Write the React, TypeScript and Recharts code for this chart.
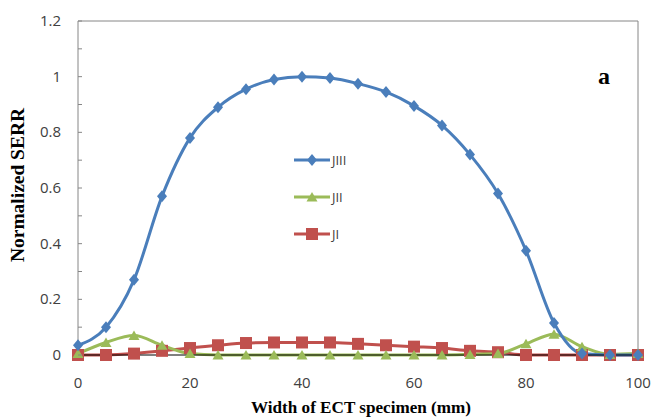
import { Line, LineChart, ReferenceLine, XAxis, YAxis } from 'recharts';

const widths = [0, 5, 10, 15, 20, 25, 30, 35, 40, 45, 50, 55, 60, 65, 70, 75, 80, 85, 90, 95, 100];
const jIII = [0.035, 0.1, 0.27, 0.57, 0.78, 0.89, 0.955, 0.99, 1.0, 0.995, 0.975, 0.945, 0.895, 0.825, 0.72, 0.58, 0.375, 0.115, 0.005, 0, 0];
const jII = [0.005, 0.045, 0.07, 0.035, 0.005, 0, 0, 0, 0, 0, 0, 0, 0, 0, 0.002, 0.005, 0.04, 0.075, 0.03, 0.002, 0.005];
const jI = [0, 0, 0.005, 0.015, 0.025, 0.035, 0.043, 0.045, 0.045, 0.045, 0.04, 0.035, 0.03, 0.025, 0.015, 0.01, 0, 0, 0, 0, 0];
const xTicks = [0, 20, 40, 60, 80, 100];
const yTicks = [0, 0.1, 0.2, 0.3, 0.4, 0.5, 0.6, 0.7, 0.8, 0.9, 1, 1.1, 1.2];
const yLabels: Record<string, string> = { '0': '0', '0.2': '0.2', '0.4': '0.4', '0.6': '0.6', '0.8': '0.8', '1': '1', '1.2': '1.2' };

const BLUE = '#4a7ebb';
const GREEN = '#9bbb59';
const RED = '#c0504d';
const SERIF = "'Liberation Serif', 'Times New Roman', serif";
const SANS = "'Open Sans', sans-serif";

const data = widths.map((w, i) => ({ w, JIII: jIII[i], JII: jII[i], JI: jI[i] }));

function Diamond({ cx, cy, fill }: any) {
  if (cx == null || cy == null) return null;
  return <polygon points={`${cx},${cy - 6} ${cx + 5},${cy} ${cx},${cy + 6} ${cx - 5},${cy}`} fill={fill} />;
}
function Triangle({ cx, cy, fill }: any) {
  if (cx == null || cy == null) return null;
  return <polygon points={`${cx},${cy - 5} ${cx + 5.5},${cy + 4.5} ${cx - 5.5},${cy + 4.5}`} fill={fill} />;
}
function Square({ cx, cy, fill }: any) {
  if (cx == null || cy == null) return null;
  return <rect x={cx - 6} y={cy - 6} width={12} height={12} fill={fill} />;
}

// tick x arrives offset by tickSize + tickMargin (8px) from the axis line
function YTick({ x, y, payload }: any) {
  const key = String(Math.round(payload.value * 10) / 10);
  const label = yLabels[key];
  const ax = x + 8;
  return (
    <g>
      <line x1={ax} x2={ax + 4} y1={y} y2={y} stroke="#868686" />
      {label && (
        <text x={ax - 17} y={y} dy={5} textAnchor="end" fontSize={15} fill="#404040" fontFamily={SANS}>
          {label}
        </text>
      )}
    </g>
  );
}

function LegendBox() {
  const items = [
    { name: 'JIII', color: BLUE, Shape: Diamond },
    { name: 'JII', color: GREEN, Shape: Triangle },
    { name: 'JI', color: RED, Shape: Square },
  ];
  return (
    <div style={{ position: 'absolute', left: 293, top: 141 }}>
      {items.map(({ name, color, Shape }) => (
        <div key={name} style={{ display: 'flex', alignItems: 'center', height: 37 }}>
          <svg width={38} height={16}>
            <line x1={1} x2={37} y1={8} y2={8} stroke={color} strokeWidth={3} />
            <Shape cx={19} cy={8} fill={color} />
          </svg>
          <span style={{ fontFamily: SANS, fontSize: 13, color: '#404040', marginLeft: 1 }}>{name}</span>
        </div>
      ))}
    </div>
  );
}

export default function App() {
  return (
    <div style={{ position: 'absolute', left: 0, top: 0, width: 654, height: 417, background: '#fff' }}>
      <LineChart width={654} height={417} data={data} margin={{ top: 21, right: 16, left: 0, bottom: 0 }}>
        <XAxis
          dataKey="w"
          type="number"
          domain={[0, 100]}
          ticks={xTicks}
          height={62}
          tickLine={false}
          axisLine={{ stroke: '#000' }}
          tick={{ fontSize: 15, fill: '#404040', fontFamily: SANS }}
          tickMargin={16}
        />
        <YAxis
          type="number"
          domain={[0, 1.2]}
          ticks={yTicks}
          width={78}
          tickLine={false}
          axisLine={{ stroke: '#868686' }}
          tick={<YTick />}
          interval={0}
        />
        <ReferenceLine y={1.2} stroke="#868686" />
        <ReferenceLine x={100} stroke="#868686" />
        <Line type="monotone" dataKey="JI" stroke={RED} strokeWidth={3} dot={<Square />} fill={RED} isAnimationActive={false} />
        <Line type="monotone" dataKey="JII" stroke={GREEN} strokeWidth={3} dot={<Triangle />} fill={GREEN} isAnimationActive={false} />
        <Line type="monotone" dataKey="JIII" stroke={BLUE} strokeWidth={3} dot={<Diamond />} fill={BLUE} isAnimationActive={false} />
        <text x={361} y={413} textAnchor="middle" fontSize={17} fontWeight="bold" fontFamily={SERIF} fill="#000" textLength={220} lengthAdjust="spacingAndGlyphs">
          Width of ECT specimen (mm)
        </text>
        <text x={0} y={0} transform="translate(24,185) rotate(-90)" textAnchor="middle" fontSize={18} fontWeight="bold" fontFamily={SERIF} fill="#000" textLength={154} lengthAdjust="spacingAndGlyphs">
          Normalized SERR
        </text>
        <text x={598} y={84} fontSize={24} fontWeight="bold" fontFamily={SERIF} fill="#000">a</text>
      </LineChart>
      <LegendBox />
    </div>
  );
}
